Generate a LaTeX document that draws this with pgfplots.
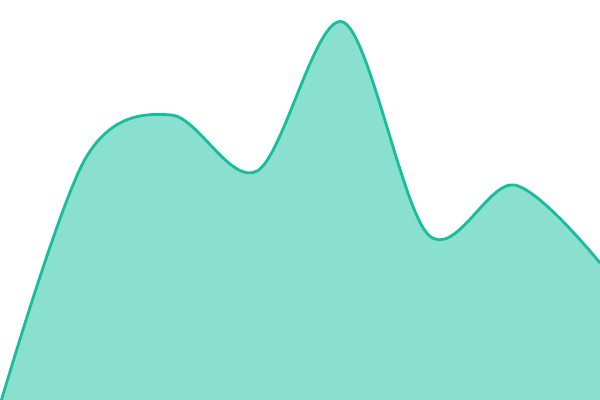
\documentclass[border=0pt]{standalone}
\usepackage{pgfplots}
\pgfplotsset{compat=1.18}
\definecolor{linec}{HTML}{1ABC9C}
\definecolor{fillc}{HTML}{89E0CF}
\begin{document}
\begin{tikzpicture}
\begin{axis}[
  width=15cm, height=10cm,
  scale only axis,
  hide axis,
  xmin=0, xmax=7,
  ymin=0, ymax=400,
  clip=true]
\addplot [draw=none, fill=fillc, smooth, tension=0.55]
coordinates {
(0,-5) (1,242) (2,285) (3,229) (4,378) (5,165) (6,215) (7,137)
} \closedcycle;
\addplot [draw=linec, line width=2pt, smooth, tension=0.55]
coordinates {
(0,-5) (1,242) (2,285) (3,229) (4,378) (5,165) (6,215) (7,137)
};
\end{axis}
\pgfresetboundingbox
\useasboundingbox (current axis.south west) rectangle (current axis.north east);
\end{tikzpicture}
\end{document}
